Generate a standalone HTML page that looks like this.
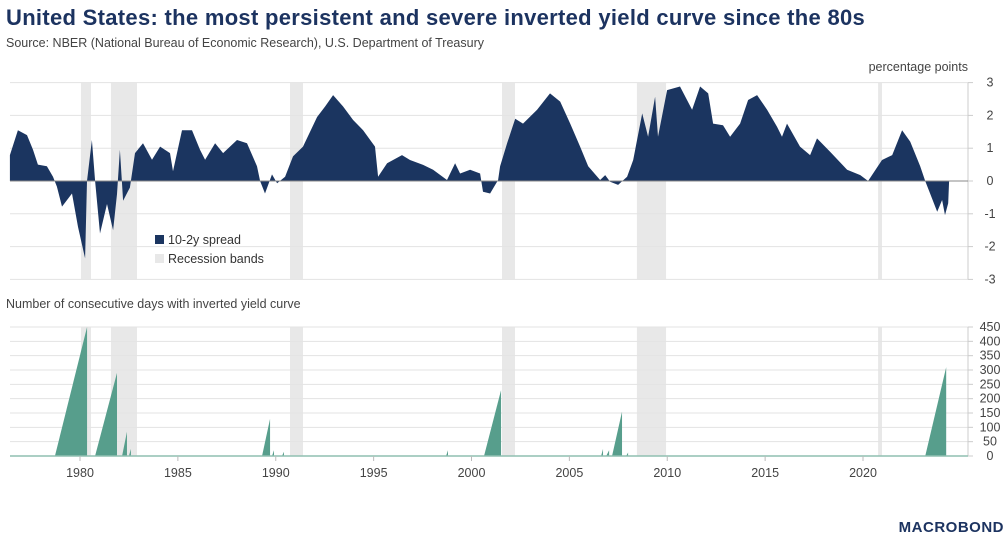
<!DOCTYPE html>
<html><head><meta charset="utf-8"><style>
body{margin:0;background:#fff;width:1008px;height:542px;overflow:hidden;font-family:"Liberation Sans",sans-serif}
svg{display:block}
text{font-family:"Liberation Sans",sans-serif}
</style></head><body>
<svg id="chart" width="1008" height="542">
<text x="6" y="25" font-size="22" font-weight="bold" fill="#1c3360" letter-spacing="0.3">United States: the most persistent and severe inverted yield curve since the 80s</text>
<text x="6" y="47" font-size="12.5" fill="#444">Source: NBER (National Bureau of Economic Research), U.S. Department of Treasury</text>
<text x="968" y="71" font-size="12.5" fill="#444" text-anchor="end">percentage points</text>
<text x="6" y="308" font-size="12.5" fill="#444">Number of consecutive days with inverted yield curve</text>
<g id="topG"></g>
<g id="botG"></g>
<g>
<rect x="155" y="235" width="9" height="9" fill="#1b3560"/>
<text x="168" y="244" font-size="12.5" fill="#333">10-2y spread</text>
<rect x="155" y="254" width="9" height="9" fill="#e8e8e8"/>
<text x="168" y="263" font-size="12.5" fill="#333">Recession bands</text>
</g>
<text x="1004" y="532" font-size="15" font-weight="bold" fill="#1c3360" text-anchor="end" letter-spacing="0.5">MACROBOND</text>
</svg>
<script>
const spreadYears=[1976.42,1976.83,1977.29,1977.60,1977.85,1978.31,1978.62,1978.82,1979.08,1979.59,1979.90,1980.26,1980.36,1980.61,1980.77,1981.02,1981.38,1981.69,1981.89,1982.04,1982.20,1982.55,1982.81,1983.22,1983.68,1984.09,1984.60,1984.75,1985.21,1985.72,1986.13,1986.39,1986.90,1987.31,1988.02,1988.53,1989.04,1989.20,1989.45,1989.81,1990.07,1990.48,1990.88,1991.39,1992.11,1992.52,1992.93,1993.44,1993.95,1994.46,1995.07,1995.23,1995.69,1996.45,1996.86,1997.53,1998.04,1998.75,1999.16,1999.42,1999.93,2000.44,2000.59,2000.95,2001.36,2001.46,2001.82,2002.23,2002.63,2003.35,2004.01,2004.53,2005.04,2005.55,2005.96,2006.57,2006.83,2007.08,2007.49,2007.95,2008.26,2008.72,2009.02,2009.38,2009.53,2009.99,2010.65,2011.27,2011.68,2012.09,2012.34,2012.85,2013.21,2013.72,2014.13,2014.59,2015.10,2015.61,2015.86,2016.12,2016.78,2017.30,2017.65,2018.32,2019.19,2019.86,2020.26,2020.97,2021.49,2022.00,2022.41,2022.92,2023.18,2023.43,2023.79,2024.04,2024.19,2024.35,2024.40];
const spreadValues=[0.79,1.55,1.4,0.95,0.5,0.45,0.13,-0.17,-0.78,-0.38,-1.4,-2.36,0,1.25,0,-1.6,-0.7,-1.5,-0.4,0.95,-0.6,-0.2,0.85,1.15,0.65,1.05,0.85,0.3,1.55,1.55,0.95,0.65,1.15,0.85,1.25,1.15,0.45,0,-0.38,0.2,-0.07,0.13,0.75,1.05,1.95,2.27,2.62,2.27,1.86,1.55,1.05,0.13,0.54,0.79,0.64,0.49,0.34,0.03,0.54,0.23,0.34,0.23,-0.33,-0.38,0.03,0.45,1.15,1.9,1.75,2.17,2.67,2.42,1.75,1.05,0.45,0.03,0.18,-0.02,-0.12,0.13,0.64,2.06,1.35,2.57,1.35,2.77,2.88,2.17,2.88,2.67,1.75,1.7,1.35,1.75,2.47,2.62,2.17,1.65,1.35,1.75,1.05,0.79,1.3,0.89,0.34,0.18,0,0.64,0.79,1.55,1.2,0.45,0,-0.38,-0.94,-0.58,-1.04,-0.68,0];
const recessionStart=[1980.05,1981.58,1990.73,2001.56,2008.45,2020.77];
const recessionEnd=[1980.56,1982.91,1991.39,2002.22,2009.94,2020.97];
const invStart=[1978.72,1980.77,1982.15,1982.50,1989.30,1989.81,1990.32,1998.70,2000.64,2006.62,2006.88,2007.18,2007.90,2023.18];
const invEnd=[1980.36,1981.89,1982.40,1982.60,1989.71,1989.91,1990.42,1998.80,2001.51,2006.72,2007.03,2007.69,2008.00,2024.25];
const invPeak=[450,290,85,25,130,20,15,20,230,25,20,155,12,310];
const spreadTicks=[3,2,1,0,-1,-2,-3];
const dayTicks=[450,400,350,300,250,200,150,100,50,0];
const yearTicks=[1980,1985,1990,1995,2000,2005,2010,2015,2020];

const NS='http://www.w3.org/2000/svg';
const L=10,R=968;
const xS=yr=>80+(yr-1980)*19.575;
const yTop=v=>181-v*32.8;
const yBot=v=>456-v*(129/450);
function mk(p,tag,a){const e=document.createElementNS(NS,tag);for(const k in a)e.setAttribute(k,a[k]);p.appendChild(e);return e;}
const topG=document.getElementById('topG'),botG=document.getElementById('botG');

recessionStart.forEach((s,i)=>{
  const r1=mk(topG,'rect',{x:xS(s),y:yTop(3),width:xS(recessionEnd[i])-xS(s),height:yTop(-3)-yTop(3),fill:'#e8e8e8'});
  
  
  const r2=mk(botG,'rect',{x:xS(s),y:yBot(450),width:xS(recessionEnd[i])-xS(s),height:yBot(0)-yBot(450),fill:'#e8e8e8'});
  
  
});
spreadTicks.forEach(t=>{
  const g=mk(topG,'line',{x1:L,x2:R,y1:yTop(t),y2:yTop(t),stroke:'#e3e3e3','stroke-width':1});
  
  
  mk(topG,'line',{x1:R,x2:R+5,y1:yTop(t),y2:yTop(t),stroke:'#ccc'});
  const tx=mk(topG,'text',{x:990,y:yTop(t)+4,'font-size':12.5,fill:'#444','text-anchor':'middle'});
  tx.textContent=t;
  
  
});
mk(topG,'line',{x1:R,x2:R,y1:yTop(3),y2:yTop(-3),stroke:'#ccc'});
let d='M'+xS(spreadYears[0])+','+yTop(0);
spreadYears.forEach((yr,i)=>{d+=' L'+xS(yr).toFixed(1)+','+yTop(spreadValues[i]).toFixed(1);});
d+=' L'+xS(spreadYears[spreadYears.length-1])+','+yTop(0)+'Z';
const area=mk(topG,'path',{d:d,fill:'#1b3560'});


mk(topG,'line',{x1:L,x2:R,y1:yTop(0),y2:yTop(0),stroke:'#888','stroke-width':1});

dayTicks.forEach(t=>{
  const g=mk(botG,'line',{x1:L,x2:R,y1:yBot(t),y2:yBot(t),stroke:'#e3e3e3'});
  
  
  mk(botG,'line',{x1:R,x2:R+5,y1:yBot(t),y2:yBot(t),stroke:'#ccc'});
  const tx=mk(botG,'text',{x:990,y:yBot(t)+4,'font-size':12.5,fill:'#444','text-anchor':'middle'});
  tx.textContent=t;
  
  
});
mk(botG,'line',{x1:R,x2:R,y1:yBot(450),y2:yBot(0),stroke:'#ccc'});
invStart.forEach((s,i)=>{
  const p=mk(botG,'path',{d:'M'+xS(s)+','+yBot(0)+' L'+xS(invEnd[i])+','+yBot(invPeak[i])+' L'+xS(invEnd[i])+','+yBot(0)+'Z',fill:'#579e8c'});
  
  
});
mk(botG,'line',{x1:L,x2:R,y1:yBot(0),y2:yBot(0),stroke:'#8fbfb1','stroke-width':1.5});
yearTicks.forEach(t=>{
  mk(botG,'line',{x1:xS(t),x2:xS(t),y1:yBot(0),y2:yBot(0)+5,stroke:'#bbb'});
  const tx=mk(botG,'text',{x:xS(t),y:477,'font-size':12.5,fill:'#444','text-anchor':'middle'});
  tx.textContent=t;
  
  
});
</script>
</body></html>
